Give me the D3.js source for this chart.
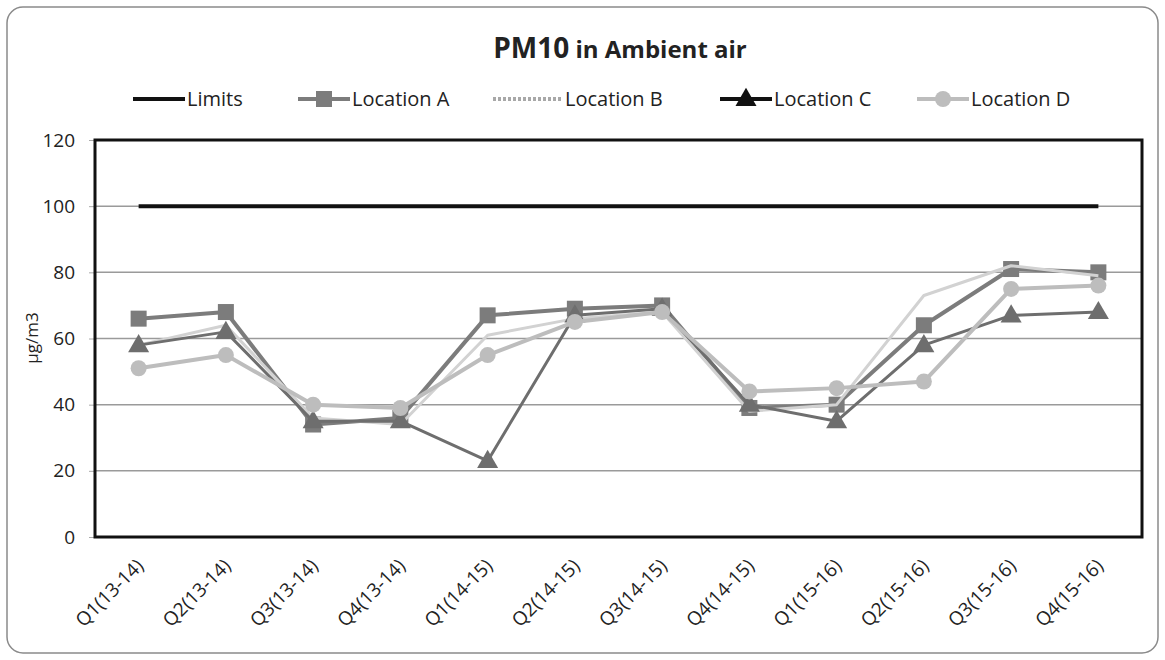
<!DOCTYPE html>
<html>
<head>
<meta charset="utf-8">
<script src="https://cdn.jsdelivr.net/npm/d3@7"></script>
<style>
  body { margin: 0; background: #fff; }
  text { font-family: "Open Sans", "Noto Sans", sans-serif; }
</style>
</head>
<body>
<script>
const width = 1165;
const height = 660;

// data
const quarters = ['Q1(13-14)','Q2(13-14)','Q3(13-14)','Q4(13-14)','Q1(14-15)','Q2(14-15)',
                  'Q3(14-15)','Q4(14-15)','Q1(15-16)','Q2(15-16)','Q3(15-16)','Q4(15-16)'];
const limits    = [100,100,100,100,100,100,100,100,100,100,100,100];
const locationA = [66,68,34,36,67,69,70,39,40,64,81,80];
const locationB = [58,64,36,34,61,66,68,38,40,73,82,79];
const locationC = [58,62,35,35,23,67,69,40,35,58,67,68];
const locationD = [51,55,40,39,55,65,68,44,45,47,75,76];
const yTicks = [0,20,40,60,80,100,120];

const series = [
  {name:'Limits', values:limits, color:'#111', width:4, marker:null},
  {name:'Location A', values:locationA, color:'#7c7c7c', width:4, marker:'square'},
  {name:'Location B', values:locationB, color:'#d2d2d2', width:3, marker:null, dash:true},
  {name:'Location C', values:locationC, color:'#6e6e6e', width:3, marker:'triangle'},
  {name:'Location D', values:locationD, color:'#bdbdbd', width:4, marker:'circle'}
];

const svg = d3.select('body').append('svg').attr('width',width).attr('height',height);

// outer chart frame
svg.append('rect')
  .attr('x',7).attr('y',7).attr('width',width-14).attr('height',height-14)
  .attr('rx',16).attr('fill','#fff').attr('stroke','#8a8a8a').attr('stroke-width',1.5);

const plot = {left:95, right:1142, top:140, bottom:537};

const x = d3.scaleBand().domain(quarters).range([plot.left,plot.right]);
const y = d3.scaleLinear().domain([0,120]).range([plot.bottom,plot.top]);
const cx = d => x(d) + x.bandwidth()/2;

// title
const title = svg.append('text').attr('x',620).attr('y',58)
  .attr('text-anchor','middle').attr('font-weight','bold').attr('fill','#222');
title.append('tspan').attr('font-size',28).text('PM10');
title.append('tspan').attr('font-size',24).text(' in Ambient air');

// grid
svg.append('g').selectAll('line').data(yTicks.filter(t => t>0 && t<120)).enter().append('line')
  .attr('x1',plot.left).attr('x2',plot.right)
  .attr('y1',d=>y(d)).attr('y2',d=>y(d))
  .attr('stroke','#9a9a9a').attr('stroke-width',1.5);

// y axis
const yAxis = svg.append('g').attr('transform',`translate(${plot.left},0)`)
  .call(d3.axisLeft(y).tickValues(yTicks).tickSize(6).tickPadding(14));
yAxis.select('.domain').remove();
yAxis.selectAll('line').attr('stroke','#aaa');
yAxis.selectAll('text').attr('font-size',19).attr('fill','#222');

svg.append('text').attr('transform','translate(38,338) rotate(-90)')
  .attr('text-anchor','middle').attr('font-size',17).attr('fill','#222').text('µg/m3');

// x axis
const xAxis = svg.append('g').attr('transform',`translate(0,${plot.bottom})`)
  .call(d3.axisBottom(x).tickSize(0).tickPadding(0));
xAxis.select('.domain').remove();
xAxis.selectAll('text')
  .attr('font-size',19).attr('fill','#222')
  .attr('text-anchor','end')
  .attr('dy',0).attr('y',0)
  .attr('transform','translate(6,30) rotate(-45)');

// lines
const line = vals => d3.line().x((d,i)=>cx(quarters[i])).y(d=>y(d))(vals);

const marker = (sel, type, color, size) => {
  if (type === 'square') {
    sel.append('rect').attr('x',-size/2).attr('y',-size/2).attr('width',size).attr('height',size)
      .attr('fill',color);
  } else if (type === 'triangle') {
    sel.append('path').attr('d',d3.symbol(d3.symbolTriangle, size*size*0.75)()).attr('fill',color)
      .attr('transform','translate(0,1)');
  } else if (type === 'circle') {
    sel.append('circle').attr('r',size/2).attr('fill',color);
  }
};

series.forEach(s => {
  const g = svg.append('g');
  let vals = s.values;
  let path = line(vals);
  if (s.name === 'Limits') {
    g.append('path').attr('d',path).attr('fill','none')
      .attr('stroke',s.color).attr('stroke-width',s.width);
    return;
  }
  g.append('path').attr('d',path).attr('fill','none')
    .attr('stroke',s.color).attr('stroke-width',s.width).attr('stroke-linejoin','round');
  if (s.marker) {
    g.selectAll('g.m').data(vals).enter().append('g')
      .attr('transform',(d,i)=>`translate(${cx(quarters[i])},${y(d)})`)
      .each(function(){ marker(d3.select(this), s.marker, s.color, 16); });
  }
});

// plot area border
svg.append('rect')
  .attr('x',plot.left).attr('y',plot.top)
  .attr('width',plot.right-plot.left).attr('height',plot.bottom-plot.top)
  .attr('fill','none').attr('stroke','#111').attr('stroke-width',3);

// legend
const legendX = [133,298,493,720,917];
const legend = svg.append('g');
series.forEach((s,i) => {
  const lg = legend.append('g').attr('transform',`translate(${legendX[i]},99)`);
  const sampleW = s.name === 'Location B' ? 70 : 52;
  const color = s.name === 'Location C' ? '#111' : (s.name === 'Location B' ? '#a8a8a8' : s.color);
  lg.append('line').attr('x1',0).attr('x2',sampleW).attr('y1',0).attr('y2',0)
    .attr('stroke',color).attr('stroke-width',4)
    .attr('stroke-dasharray', s.dash ? '3,2' : null);
  if (s.marker) {
    const m = lg.append('g').attr('transform',`translate(${sampleW/2},0)`);
    marker(m, s.marker, color, 16);
  }
  lg.append('text').attr('x',sampleW+2).attr('y',7)
    .attr('font-size',20).attr('fill','#222').text(s.name);
});
</script>
</body>
</html>
